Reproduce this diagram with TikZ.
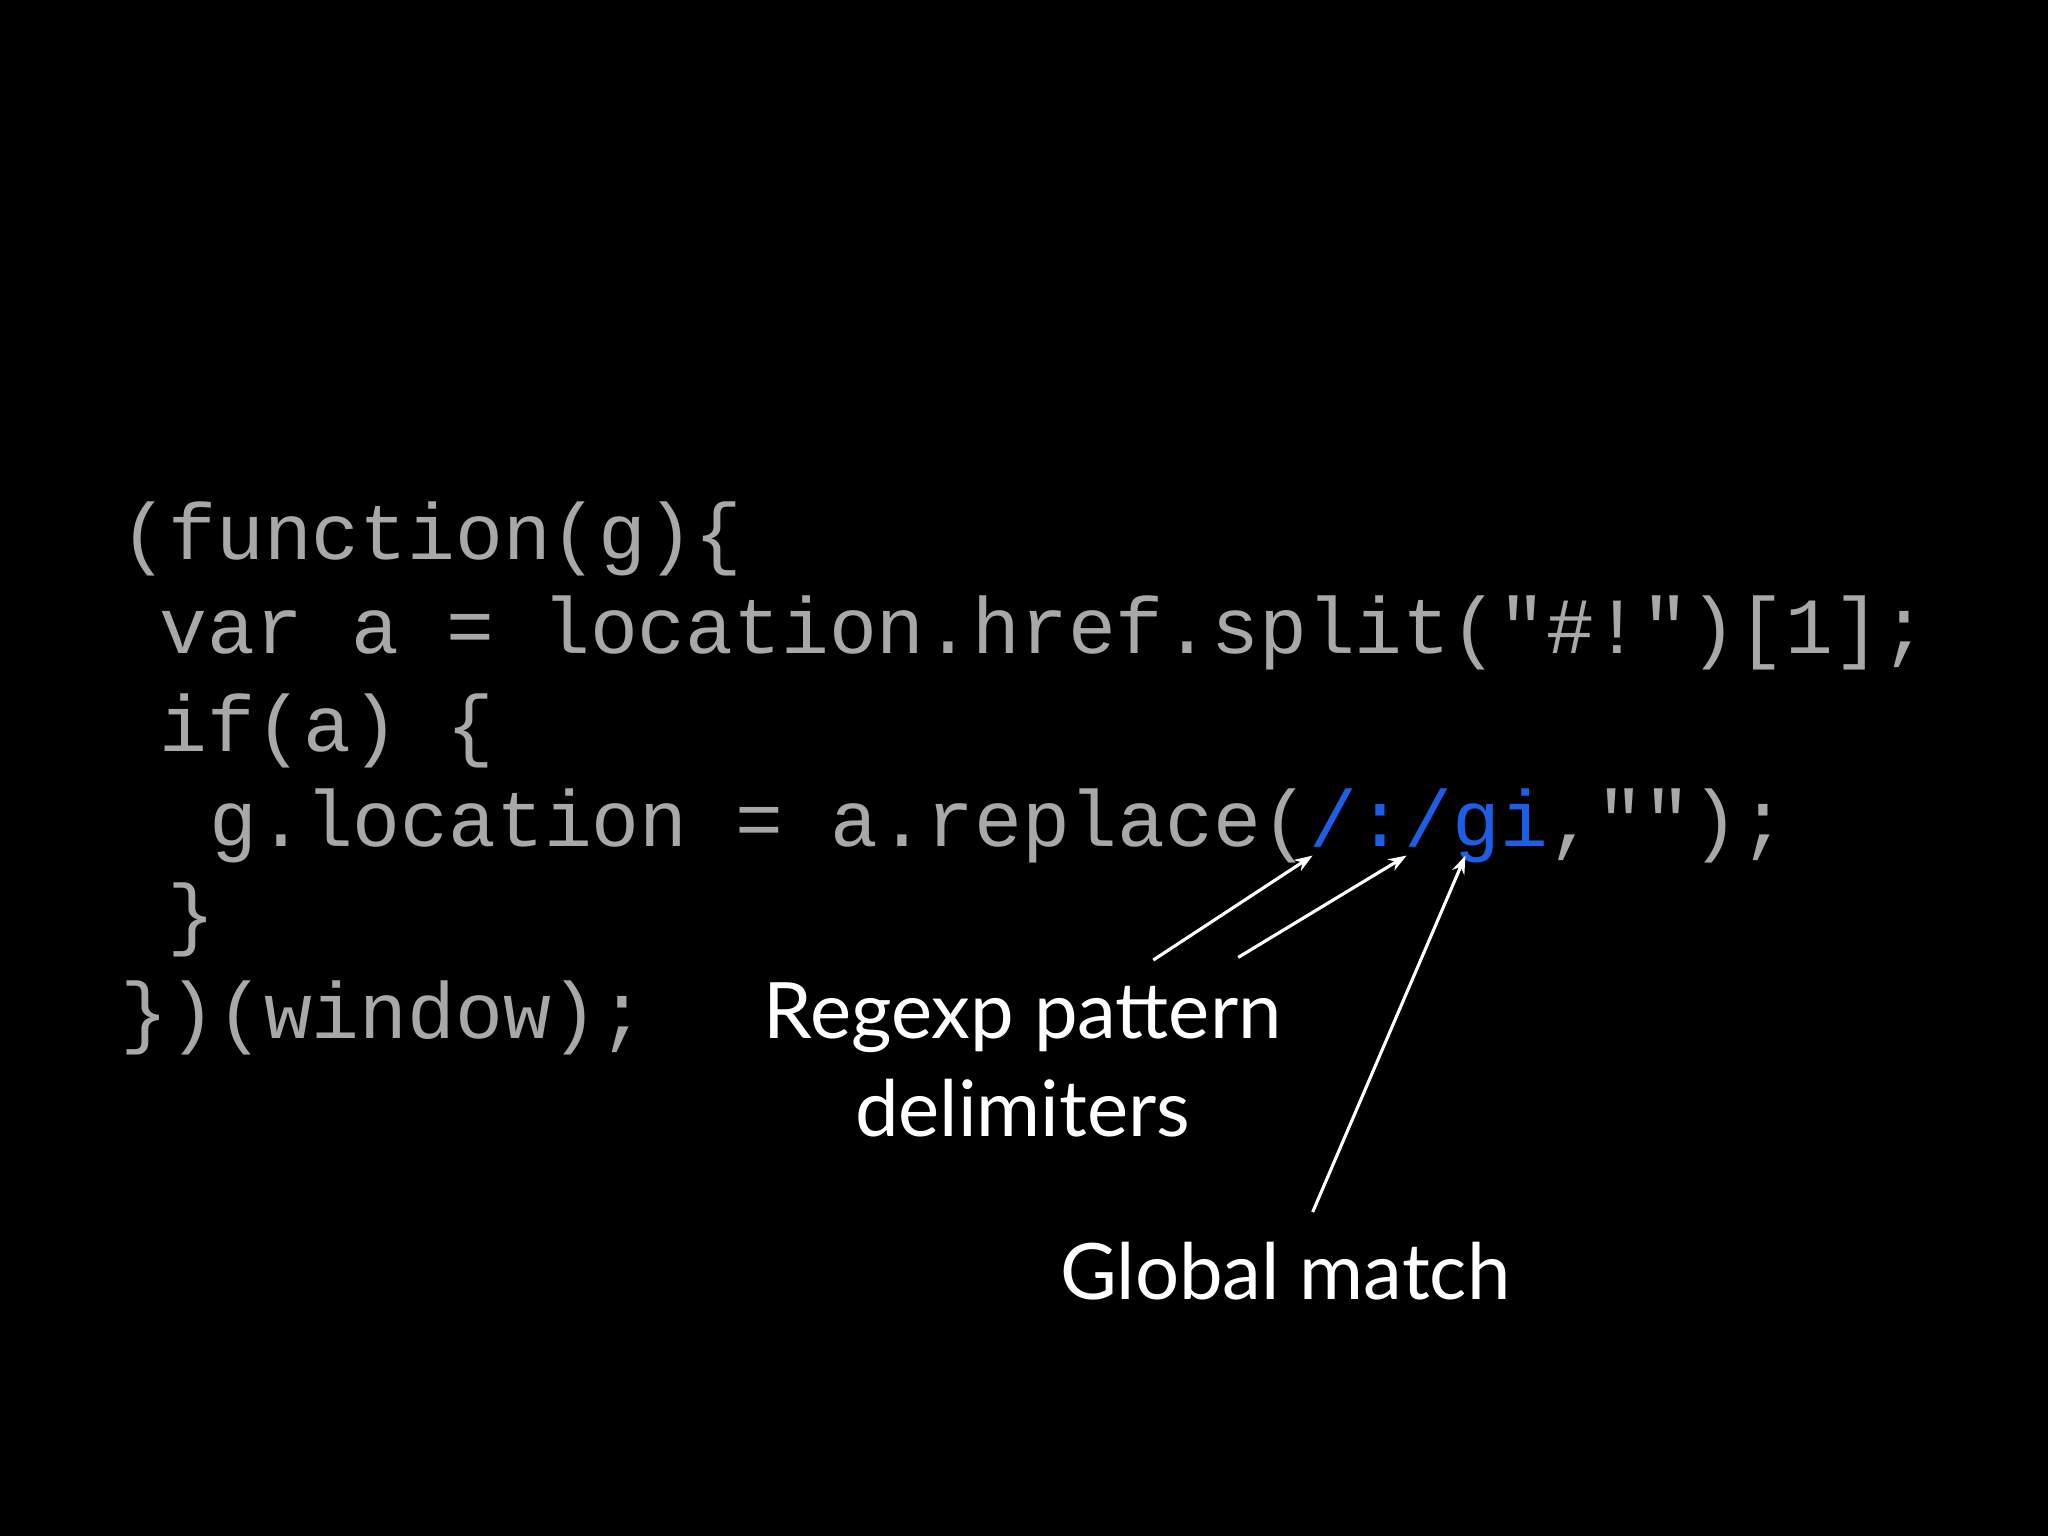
\documentclass[tikz,border=0pt]{standalone}
\usepackage{fontspec}
\usetikzlibrary{arrows.meta}
\setmonofont{Liberation Mono}
\newfontfamily\labelfont{Lato}
\definecolor{codegray}{HTML}{A8A8A8}
\definecolor{reblue}{HTML}{1C5FE6}
\begin{document}
\begin{tikzpicture}[x=0.5pt,y=-0.5pt,
  code/.style={anchor=base west,inner sep=0,text=codegray,font=\ttfamily\fontsize{30.5}{31}\selectfont},
  lbl/.style={text=white,font=\labelfont\fontsize{29.8}{37}\selectfont,inner sep=0,anchor=base},
  arr/.style={white,line width=1.2pt,-{Stealth[length=7pt,width=5pt]}}]
\fill[black] (0,0) rectangle (1568,1176);
\node[code] (l1) at (92,428) {(function(g)\{};
\node[code] (l2) at (122,500) {var a = location.href.split("\#!")[1];};
\node[code] (l3) at (122,575) {if(a) \{};
\node[code] (l4) at (160,648) {g.location = a.replace(\textcolor{reblue}{/:/gi},"");};
\node[code] (l5) at (128,720) {\}};
\node[code] (l6) at (92,795) {\})(window);};
\node[lbl] (re) at (783,795) {Regexp pattern};
\node[lbl] (de) at (783,870) {delimiters};
\node[lbl] (gm) at (984,995) {Global match};
\coordinate (s1) at (883,735); \coordinate (t1) at (1005,655);
\coordinate (s2) at (948,733); \coordinate (t2) at (1077,655);
\coordinate (s3) at (1005,928); \coordinate (t3) at (1122,655);
\draw[arr] (s1) -- (t1);
\draw[arr] (s2) -- (t2);
\draw[arr] (s3) -- (t3);
\end{tikzpicture}
\end{document}
